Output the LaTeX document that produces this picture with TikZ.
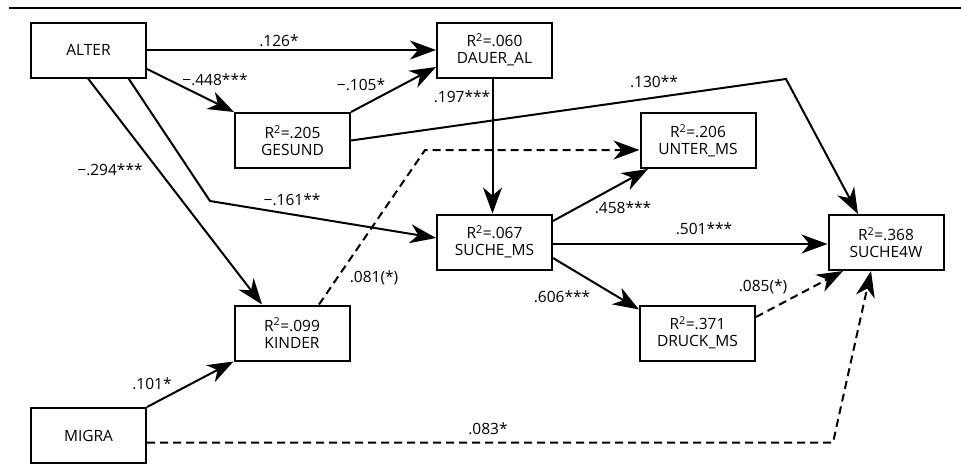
\documentclass[tikz,border=0pt]{standalone}
\usepackage{fontspec}
\setmainfont{Open Sans}
\usetikzlibrary{arrows.meta}
\begin{document}
\begin{tikzpicture}[x=1pt,y=-1pt,
  box/.style={draw, line width=2pt, minimum width=115pt, minimum height=55pt, inner sep=0pt, align=center, font=\fontsize{15.5}{17}\selectfont},
  conn/.style={line width=2pt, -{Stealth[length=26pt,width=19pt,inset=8pt]}},
  dconn/.style={conn, dash pattern=on 8pt off 5pt},
  lab/.style={inner sep=0pt, font=\fontsize{15.5}{17}\selectfont}]
\useasboundingbox (0,0) rectangle (961,475);
\draw[line width=2pt] (9,7.5) -- (961,7.5);
% boxes
\node[box] (alter)  at (88.5,50)   {ALTER};
\node[box] (dauer)  at (494.5,50)  {R\textsuperscript{2}=.060\\DAUER\_AL};
\node[box] (gesund) at (292.5,140.5) {R\textsuperscript{2}=.205\\GESUND};
\node[box] (unter)  at (698,140.5) {R\textsuperscript{2}=.206\\UNTER\_MS};
\node[box] (sms)    at (494.5,242) {R\textsuperscript{2}=.067\\SUCHE\_MS};
\node[box] (s4w)    at (886,242.5) {R\textsuperscript{2}=.368\\SUCHE4W};
\node[box] (kinder) at (292,333)   {R\textsuperscript{2}=.099\\KINDER};
\node[box] (druck)  at (697.5,333) {R\textsuperscript{2}=.371\\DRUCK\_MS};
\node[box] (migra)  at (88.5,435.5) {MIGRA};
% bend points
\coordinate (b1) at (786,79);
\coordinate (b2) at (210,201);
\coordinate (b3) at (425,150);
\coordinate (b4) at (833,442.5);
% connectors
\draw[conn] (alter.east) -- (dauer.west);
\draw[conn] ([yshift=-19pt]alter.east) -- (gesund.north west);
\draw[conn] (gesund.north east) -- ([yshift=-17pt]dauer.west);
\draw[conn] (gesund.east) -- (b1) -- ([xshift=-28pt]s4w.north);
\draw[conn] ([xshift=-2pt]dauer.south) -- ([xshift=-2pt]sms.north);
\draw[conn] ([xshift=40pt]alter.south) -- (b2) -- ([yshift=4pt]sms.west);
\draw[conn] ([xshift=-0.5pt]alter.south) -- ([xshift=-30pt]kinder.north);
\draw[dconn] ([xshift=27pt]kinder.north) -- (b3) -- ([yshift=-9.5pt]unter.west);
\draw[conn] ([yshift=21pt]sms.east) -- ([xshift=-50pt]unter.south);
\draw[conn] ([yshift=-2pt]sms.east) -- ([yshift=-1.5pt]s4w.west);
\draw[conn] ([yshift=-16pt]sms.east) -- ([yshift=-5pt]druck.north west);
\draw[dconn] ([yshift=-12.5pt]druck.north east) -- ([xshift=-43pt]s4w.south);
\draw[conn] (migra.north east) -- (kinder.south west);
\draw[dconn] ([yshift=-7pt]migra.east) -- (b4) -- ([xshift=-15pt]s4w.south);
% labels
\node[lab] (l1)  at (279,41)  {.126*};
\node[lab] (l2)  at (215,80)  {−.448***};
\node[lab] (l3)  at (361,85)  {−.105*};
\node[lab] (l4)  at (462,97)  {.197***};
\node[lab] (l5)  at (654,82)  {.130**};
\node[lab] (l6)  at (110,170) {−.294***};
\node[lab] (l7)  at (292,200) {−.161**};
\node[lab] (l8)  at (623,208) {.458***};
\node[lab] (l9)  at (704,229) {.501***};
\node[lab] (l10) at (374,278) {.081(*)};
\node[lab] (l11) at (562,297) {.606***};
\node[lab] (l12) at (763,287) {.085(*)};
\node[lab] (l13) at (152,384) {.101*};
\node[lab] (l14) at (488,429) {.083*};
\end{tikzpicture}
\end{document}
